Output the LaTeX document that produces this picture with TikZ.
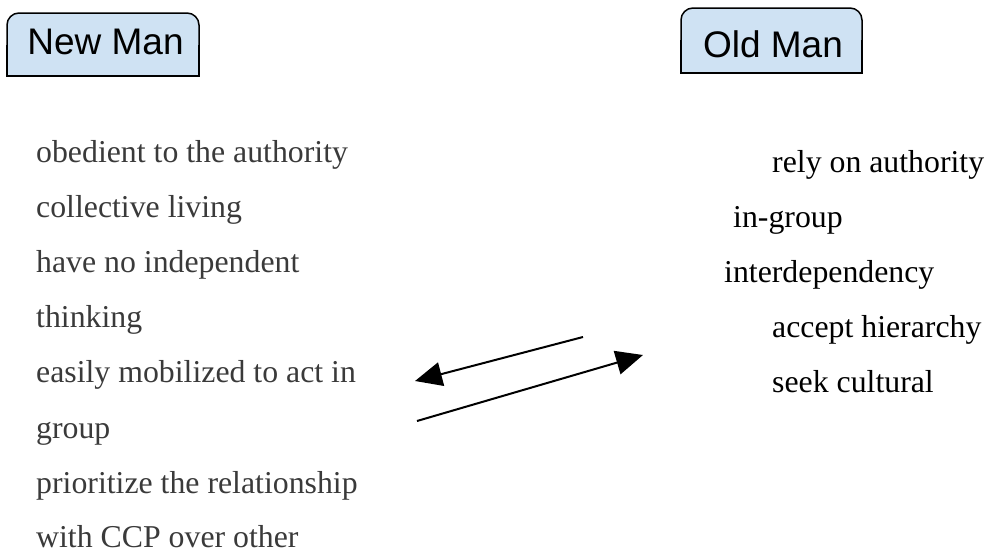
\documentclass[tikz,border=0pt]{standalone}
\usepackage{fontspec}
\setmainfont{Liberation Serif}
\newfontfamily\boxfont{Liberation Sans}
\usetikzlibrary{arrows.meta}
\definecolor{boxblue}{HTML}{CFE2F3}
\definecolor{leftgray}{HTML}{3A3A3A}
\tikzset{
  boxshape/.style={fill=boxblue,draw=black,line width=1.5pt,rounded corners=12pt},
  boxlabel/.style={inner sep=0pt,anchor=base,font=\boxfont\fontsize{37}{40}\selectfont},
  lefttext/.style={inner sep=0pt,anchor=base west,text=leftgray,font=\fontsize{31.8}{36}\selectfont},
  righttext/.style={inner sep=0pt,anchor=base west,text=black,font=\fontsize{31.8}{36}\selectfont},
  arrowline/.style={line width=2pt,-{Triangle[length=27pt,width=24pt]}}
}
\begin{document}
\begin{tikzpicture}[x=1pt,y=-1pt]
\useasboundingbox (0,0) rectangle (986,554);
% New Man box (rounded top corners, square bottom corners)
\draw[boxshape] (7,13) rectangle (199,76);
\fill[boxblue] (7.75,45) rectangle (198.25,75.25);
\draw[line width=1.5pt] (7,45) -- (7,76) -- (199,76) -- (199,45);
\node[boxlabel] (newman) at (105.5,54) {New Man};
% Old Man box
\draw[boxshape] (681,8) rectangle (862,73);
\fill[boxblue] (681.75,40) rectangle (861.25,72.25);
\draw[line width=1.5pt] (681,40) -- (681,73) -- (862,73) -- (862,40);
\node[boxlabel] (oldman) at (773,57) {Old Man};
% left column
\node[lefttext] (l1) at (36,162) {obedient to the authority};
\node[lefttext] (l2) at (36,217) {collective living};
\node[lefttext] (l3) at (36,272) {have no independent};
\node[lefttext] (l4) at (36,327) {thinking};
\node[lefttext] (l5) at (36,382) {easily mobilized to act in};
\node[lefttext] (l6) at (36,438) {group};
\node[lefttext] (l7) at (36,493) {prioritize the relationship};
\node[lefttext] (l8) at (36,547) {with CCP over other};
% right column
\node[righttext] (r1) at (772,172) {rely on authority};
\node[righttext] (r2) at (733,227) {in-group};
\node[righttext] (r3) at (724,282) {interdependency};
\node[righttext] (r4) at (772,337) {accept hierarchy};
\node[righttext] (r5) at (772,392) {seek cultural};
% arrows
\coordinate (a1s) at (583,337);
\coordinate (a1e) at (415,381);
\coordinate (a2s) at (417,421);
\coordinate (a2e) at (643,355);
\draw[arrowline] (a1s) -- (a1e);
\draw[arrowline] (a2s) -- (a2e);
\end{tikzpicture}
\end{document}
